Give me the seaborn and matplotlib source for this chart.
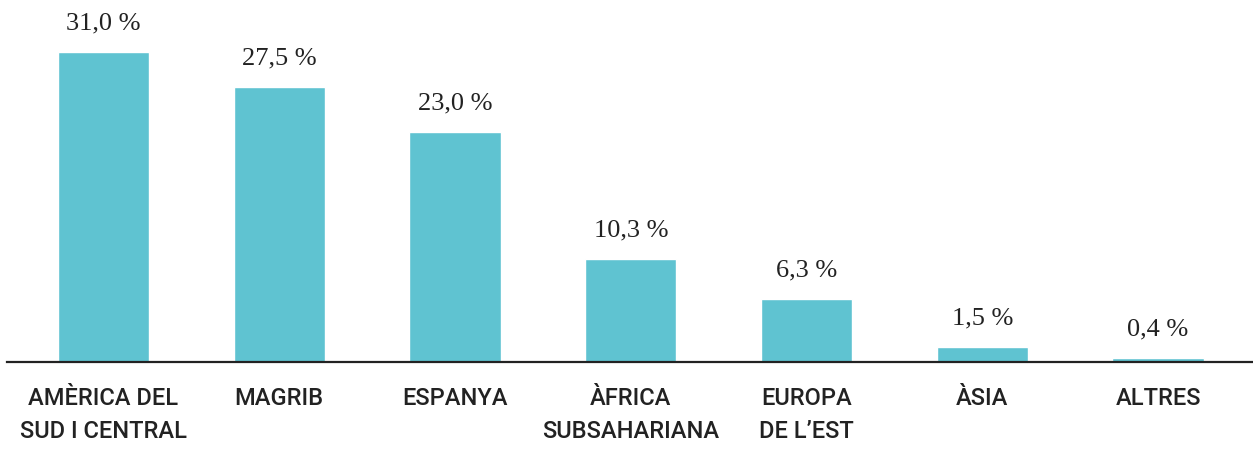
import numpy as np
import matplotlib
matplotlib.use("Agg")
import matplotlib.pyplot as plt
import pandas as pd
import seaborn as sns

# data
regions = ["AMÈRICA DEL\nSUD I CENTRAL", "MAGRIB", "ESPANYA", "ÀFRICA\nSUBSAHARIANA",
           "EUROPA\nDE L’EST", "ÀSIA", "ALTRES"]
shares = [31.0, 27.5, 23.0, 10.3, 6.3, 1.5, 0.4]
labels = ["31,0 %", "27,5 %", "23,0 %", "10,3 %", "6,3 %", "1,5 %", "0,4 %"]

df = pd.DataFrame({"region": regions, "share": shares})

sns.set_style("white")
plt.rcParams["font.family"] = ["Roboto", "DejaVu Sans"]

fig = plt.figure(figsize=(12.53, 4.54), dpi=100)
ax = fig.add_axes([7 / 1253, 1 - 362 / 454, 1 - 7 / 1253, 362 / 454])

sns.barplot(data=df, x="region", y="share", color="#5fc3d1", saturation=1,
            width=0.52, ax=ax)

#value labels above bars
for i, (v, lab) in enumerate(zip(shares, labels)):
    ax.annotate(lab, (i, v), xytext=(0, 16), textcoords="offset points",
                ha="center", va="baseline", fontsize=19,
                family="Liberation Serif", color="#222222")

ax.set_xlim(-0.549, 6.54)
ax.set_ylim(0, 36.2)
ax.set_xlabel("")
ax.set_ylabel("")
ax.set_yticks([])
for s in ["top", "left", "right"]:
    ax.spines[s].set_visible(False)
ax.spines["bottom"].set_color("#222222")
ax.spines["bottom"].set_linewidth(1.6)
ax.tick_params(axis="x", length=0, pad=18, labelsize=17, colors="#222222")
for t in ax.get_xticklabels():
    t.set_fontweight("medium")
    t.set_linespacing(1.55)

fig.savefig("out.png", dpi=100)
